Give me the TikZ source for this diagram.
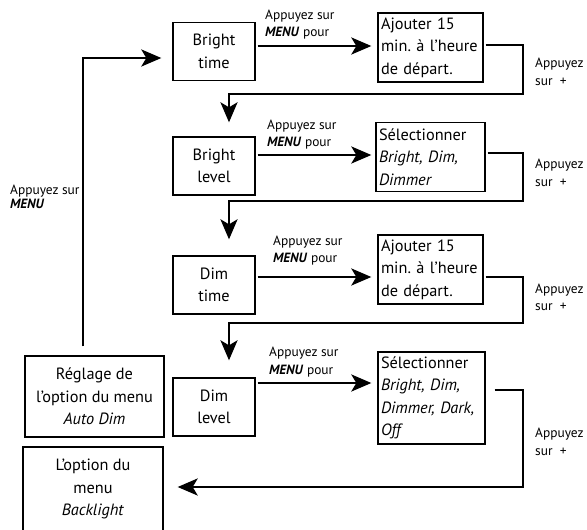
\documentclass[tikz,border=0pt]{standalone}
\usepackage{fontspec}
\setmainfont{PT Sans}
\usetikzlibrary{arrows.meta}
\frenchspacing
\newcommand{\bfont}{\fontsize{16.3}{22.5}\selectfont}
\newcommand{\sfont}{\fontsize{13.4}{17.5}\selectfont}
\newcommand{\menu}{\textbf{\textit{MENU}}}
\begin{document}
\begin{tikzpicture}[x=1pt,y=-1pt]
\tikzstyle{box}=[draw,line width=1.3pt,inner sep=4pt,font=\bfont];
\tikzstyle{lbox}=[box,minimum width=82pt,minimum height=58pt,align=center];
\tikzstyle{rbox}=[box,inner xsep=3pt,text width=99pt,minimum height=69pt,align=left];
\tikzstyle{lab}=[anchor=west,inner sep=0pt,font=\sfont,align=left];
\tikzstyle{arr}=[line width=2.6pt,-{Stealth[length=20pt,width=17pt,inset=5pt]}];
\useasboundingbox (0,0) rectangle (587,530);
% left column
\node[lbox] (brtime) at (214,51.5) {Bright\\time};
\node[lbox] (brlevel) at (214,166) {Bright\\level};
\node[lbox] (dimtime) at (214,285) {Dim\\time};
\node[lbox] (dimlevel) at (214,407) {Dim\\level};
\node[box,minimum width=139pt,minimum height=81pt,align=center] (autodim) at (94.5,396.5) {Réglage de\\l'option du menu\\\textit{Auto Dim}};
\node[box,minimum width=140pt,minimum height=84pt,align=center] (backlight) at (93,489) {L'option du\\menu\\\textit{Backlight}};
% right column
\node[rbox] (add1) at (430.5,47.5) {Ajouter 15\\min.~à~l'heure\\de départ.};
\node[rbox,text width=103pt] (sel1) at (430.5,157) {Sélectionner\\\textit{Bright, Dim,}\\\textit{Dimmer}};
\node[rbox] (add2) at (430.5,269.5) {Ajouter 15\\min.~à~l'heure\\de départ.};
\node[rbox,text width=101pt,minimum height=92pt] (sel2) at (431.5,398) {Sélectionner\\\textit{Bright, Dim,}\\\textit{Dimmer, Dark,}\\\textit{Off}};
% labels
\node[lab] (m1) at (265,24.5) {Appuyez sur\\\menu{} pour};
\node[lab] (m2) at (267,134.5) {Appuyez sur\\\menu{} pour};
\node[lab] (m3) at (273,250.5) {Appuyez sur\\\menu{} pour};
\node[lab] (m4) at (269,362) {Appuyez sur\\\menu{} pour};
\node[lab] (p1) at (535,72) {Appuyez\\sur\ \ +};
\node[lab] (p2) at (535,173) {Appuyez\\sur\ \ +};
\node[lab] (p3) at (535,297.5) {Appuyez\\sur\ \ +};
\node[lab] (p4) at (535,442) {Appuyez\\sur\ \ +};
\node[lab,font=\fontsize{13.4}{14}\selectfont] (m0) at (10,197) {Appuyez sur\\\menu};
% corners
\coordinate (c1) at (523,94);
\coordinate (c2) at (523,201);
\coordinate (c3) at (523,323);
\coordinate (c4) at (523,487);
% arrows
\draw[arr,shorten <=2pt,shorten >=6pt] ([yshift=5.5pt]brtime.east) -- ([yshift=5.5pt]brtime.east -| add1.west);
\draw[arr,shorten <=2pt,shorten >=4pt] ([yshift=11pt]brlevel.east) -- ([yshift=11pt]brlevel.east -| sel1.west);
\draw[arr,shorten <=2pt,shorten >=6pt] ([yshift=8pt]dimtime.east) -- ([yshift=8pt]dimtime.east -| add2.west);
\draw[arr,shorten <=2pt,shorten >=6pt] ([yshift=24pt]dimlevel.east) -- ([yshift=24pt]dimlevel.east -| sel2.west);
\draw[arr,shorten <=2pt,shorten >=14pt] ([yshift=2.5pt]add1.east) -| (c1) -| ([xshift=15pt]brlevel.north);
\draw[arr,shorten <=2pt,shorten >=16pt] ([yshift=4pt]sel1.east) -| (c2) -| ([xshift=15pt]dimtime.north);
\draw[arr,shorten <=2pt,shorten >=17pt] ([yshift=-7.5pt]add2.east) -| (c3) -| ([xshift=15pt]dimlevel.north);
\draw[arr,shorten <=9pt,shorten >=14pt] ([yshift=8pt]sel2.east) -| (c4) -- (backlight.east |- c4);
\draw[arr,shorten <=9pt,shorten >=11pt] ([xshift=-11.5pt]autodim.north) |- ([yshift=-6.5pt]brtime.west);
\end{tikzpicture}
\end{document}
